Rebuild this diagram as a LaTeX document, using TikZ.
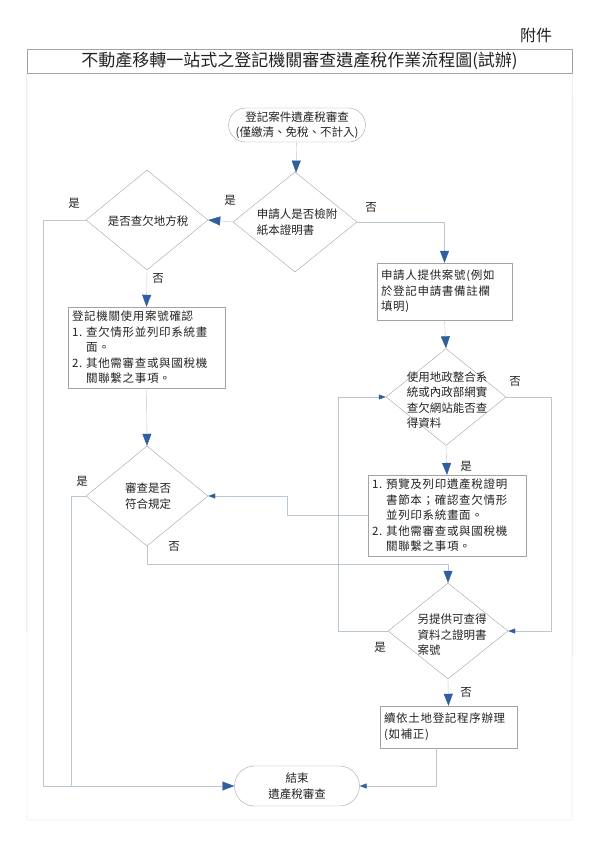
\documentclass[tikz,border=0pt]{standalone}
\usepackage{fontspec}
\setmainfont{Noto Sans CJK TC}
\usetikzlibrary{shapes.geometric,shapes.misc,arrows.meta}
\definecolor{linegray}{HTML}{B9C8D3}
\definecolor{boxgray}{HTML}{A3A3A3}
\definecolor{framegray}{HTML}{CFCFCF}
\definecolor{tipblue}{HTML}{2F5F9F}
\definecolor{textgray}{HTML}{222222}
\tikzset{
    txt/.style={text=textgray, font=\fontsize{11.5}{15.5}\selectfont},
    task/.style={txt, font=\fontsize{11.5}{15.5}\selectfont\addfontfeature{LetterSpace=6},
        draw=boxgray, rectangle, align=left, inner sep=4pt},
    term/.style={txt, draw=boxgray, rounded rectangle, align=center, inner sep=0pt},
    decide/.style={draw=boxgray, diamond, inner sep=0pt},
    flow/.style={draw=linegray, -{Triangle[length=12pt,width=9pt,color=tipblue]}},
    flowsmall/.style={draw=linegray, -{Triangle[length=7pt,width=5pt,color=tipblue]}},
    wire/.style={draw=linegray},
}
\begin{document}
\begin{tikzpicture}[x=1pt,y=-1pt]
        \useasboundingbox (0,0) rectangle (600,849);
        \node[text=textgray, font=\fontsize{16}{18}\selectfont] (annex) at (536,35) {附件};
        \node[text=textgray, draw=boxgray, minimum width=545pt, minimum height=24pt,
            inner sep=0pt, font=\fontsize{17}{20}\selectfont] (title) at (299.5,61)
            {不動產移轉一站式之登記機關審查遺產稅作業流程圖(試辦)};
        \draw [framegray] (title.south west) -- (27,820) -- (572,820) -- (title.south east);

        \node[term, minimum width=130pt, minimum height=34pt] (start) at (297,125)
            {登記案件遺產稅審查\\(僅繳清、免稅、不計入)};
        \node[decide, minimum width=124pt, minimum height=100pt] (d1) at (295,222) {};
        \node[txt, align=left] (d1t) at (297,222) {申請人是否檢附\\紙本證明書};
        \node[decide, minimum width=122pt, minimum height=100pt] (d2) at (147,220) {};
        \node[txt] (d2t) at (148,221) {是否查欠地方稅};
        \node[task, minimum width=157pt, minimum height=81pt, text width=149pt] (box1)
            at (146.5,347.5) {登記機關使用案號確認\\1.~查欠情形並列印系統畫\\
            \hphantom{1.~}面。\\2.~其他需審查或與國稅機\\\hphantom{1.~}關聯繫之事項。};
        \node[decide, minimum width=122pt, minimum height=100pt] (d3) at (147,496) {};
        \node[txt, align=center] (d3t) at (148,496) {審查是否\\符合規定};
        \node[task, minimum width=135pt, minimum height=57pt, text width=127pt] (box2)
            at (444.5,291.5) {申請人提供案號(例如\\於登記申請書備註欄\\填明)};
        \node[decide, minimum width=120pt, minimum height=97pt] (d4) at (446,397) {};
        \node[txt, align=left] (d4t) at (447,400)
            {使用地政整合系\\統或內政部網實\\查欠網站能否查\\得資料};
        \node[task, minimum width=158pt, minimum height=77pt, text width=150pt] (box3)
            at (447,515.5) {1.~預覽及列印遺產稅證明\\\hphantom{1.~}書節本；確認查欠情形\\
            \hphantom{1.~}並列印系統畫面。\\2.~其他需審查或與國稅機\\\hphantom{1.~}關聯繫之事項。};
        \node[decide, minimum width=120pt, minimum height=96pt] (d5) at (448,631) {};
        \node[txt, align=left] (d5t) at (452,635) {另提供可查得\\資料之證明書\\案號};
        \node[task, minimum width=137pt, minimum height=42pt, text width=129pt] (box4)
            at (448.5,727) {續依土地登記程序辦理\\(如補正)};
        \node[term, minimum width=125pt, minimum height=40pt] (end) at (297,786)
            {結束\\遺產稅審查};

        \node[txt] (d1yes) at (230,200) {是};
        \node[txt] (d1no) at (371,207) {否};
        \node[txt] (d2yes) at (74,203) {是};
        \node[txt] (d2no) at (158,278) {否};
        \node[txt] (d3yes) at (82,481) {是};
        \node[txt] (d3no) at (174,546) {否};
        \node[txt] (d4no) at (515,381) {否};
        \node[txt] (d4yes) at (466,466) {是};
        \node[txt] (d5yes) at (380,647) {是};
        \node[txt] (d5no) at (466,692) {否};

        \draw [flow] (start) -- (d1);
        \draw [flow] (d1.west) -- (d2.east);
        \draw [flow] (d2.south) -- (box1.north);
        \draw [flow] (d2.west) -- (43,220) |- (end.west);
        \draw [wire] (d3.west) -- (71,496) -- (71,786);
        \draw [flow] (box1.south) -- (d3.north);
        \draw [flow] (d3.south) -- ++(0,18) -| (d5.north);
        \draw [flow] (d1.east) -| (box2.north);
        \draw [flow] (box2.south) -- (d4.north);
        \draw [flow] (d4.south) -- (box3.north);
        \draw [flowsmall] (box3.west) -- ++(-81,0) |- (d3.east);
        \draw [flowsmall] (d4.east) -- ++(45,0) |- (d5.east);
        \draw [flowsmall] (d5.west) -- ++(-50,0) |- (d4.west);
        \draw [flow] (d5.south) -- (box4.north);
        \draw [flowsmall] ([xshift=-12pt]box4.south) |- (end.east);
    \end{tikzpicture}
\end{document}
